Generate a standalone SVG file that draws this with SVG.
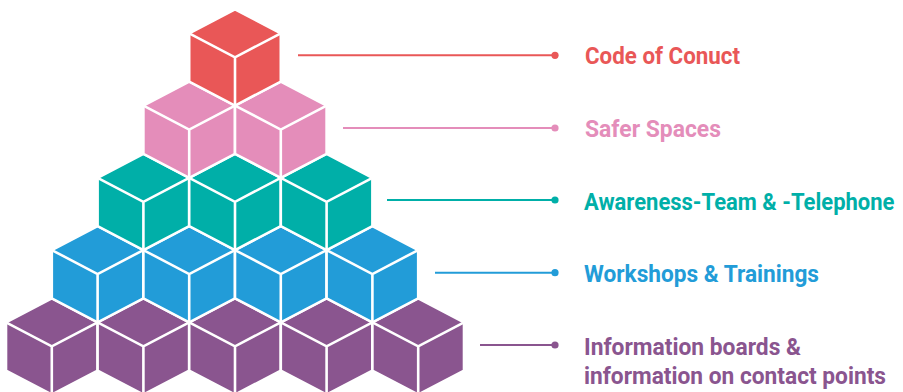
<svg xmlns="http://www.w3.org/2000/svg" xmlns:xlink="http://www.w3.org/1999/xlink" width="903" height="392" viewBox="0 0 903 392">
<style>
.edge{stroke:#fff;stroke-width:2.6;stroke-linejoin:miter;fill:none}
.lbl{font-family:Roboto,"Liberation Sans",sans-serif;font-weight:700;font-size:23.5px}
.con{stroke-width:2;fill:none}
</style>
<defs>
<g id="cube">
<path d="M0,0 L45.8,24 L45.8,72.25 L0,96.25 L-45.8,72.25 L-45.8,24 Z" stroke="#fff" stroke-width="2.6"/>
<path class="edge" d="M-45.8,24 L0,48 L45.8,24 M0,48 L0,96.25"/>
</g>
</defs>
<rect width="903" height="392" fill="#fff"/>
<g id="tier-purple" fill="#8A558F">
<use xlink:href="#cube" x="51.8" y="298.3"/>
<use xlink:href="#cube" x="143.4" y="298.3"/>
<use xlink:href="#cube" x="235" y="298.3"/>
<use xlink:href="#cube" x="326.6" y="298.3"/>
<use xlink:href="#cube" x="418.2" y="298.3"/>
</g>
<g id="tier-blue" fill="#229CD8">
<use xlink:href="#cube" x="97.6" y="226.05"/>
<use xlink:href="#cube" x="189.2" y="226.05"/>
<use xlink:href="#cube" x="280.8" y="226.05"/>
<use xlink:href="#cube" x="372.4" y="226.05"/>
</g>
<g id="tier-teal" fill="#00AFA8">
<use xlink:href="#cube" x="143.4" y="153.8"/>
<use xlink:href="#cube" x="235" y="153.8"/>
<use xlink:href="#cube" x="326.6" y="153.8"/>
</g>
<g id="tier-pink" fill="#E48DBA">
<use xlink:href="#cube" x="189.2" y="81.55"/>
<use xlink:href="#cube" x="280.8" y="81.55"/>
</g>
<g id="tier-red" fill="#E95757">
<use xlink:href="#cube" x="235" y="9.3"/>
</g>
<g id="connectors">
<line class="con" stroke="#E95757" x1="298" y1="55.3" x2="555" y2="55.3"/>
<circle cx="555" cy="55.3" r="3.6" fill="#E95757"/>
<line class="con" stroke="#E48DBA" x1="343" y1="128" x2="555" y2="128"/>
<circle cx="555" cy="128" r="3.6" fill="#E48DBA"/>
<line class="con" stroke="#00AFA8" x1="387" y1="200" x2="555" y2="200"/>
<circle cx="555" cy="200" r="3.6" fill="#00AFA8"/>
<line class="con" stroke="#229CD8" x1="435" y1="272.7" x2="555" y2="272.7"/>
<circle cx="555" cy="272.7" r="3.6" fill="#229CD8"/>
<line class="con" stroke="#8A558F" x1="480" y1="345" x2="555" y2="345"/>
<circle cx="555" cy="345" r="3.6" fill="#8A558F"/>
</g>
<g id="label-red"><text class="lbl" fill="#E95757" x="585" y="64" textLength="155" lengthAdjust="spacingAndGlyphs">Code of Conuct</text></g>
<g id="label-pink"><text class="lbl" fill="#E48DBA" x="585" y="137" textLength="136" lengthAdjust="spacingAndGlyphs">Safer Spaces</text></g>
<g id="label-teal" transform="translate(584,209.5) scale(0.86,1)"><text class="lbl" fill="#00AFA8" x="0" y="0" textLength="361" lengthAdjust="spacingAndGlyphs">Awareness-Team &amp; -Telephone</text></g>
<g id="label-blue"><text class="lbl" fill="#229CD8" x="584" y="282" textLength="235" lengthAdjust="spacingAndGlyphs">Workshops &amp; Trainings</text></g>
<g id="label-purple"><text class="lbl" fill="#8A558F" x="584" y="355" textLength="217" lengthAdjust="spacingAndGlyphs">Information boards &amp;</text><text class="lbl" fill="#8A558F" x="584" y="383.5" textLength="302" lengthAdjust="spacingAndGlyphs">information on contact points</text></g>
</svg>
